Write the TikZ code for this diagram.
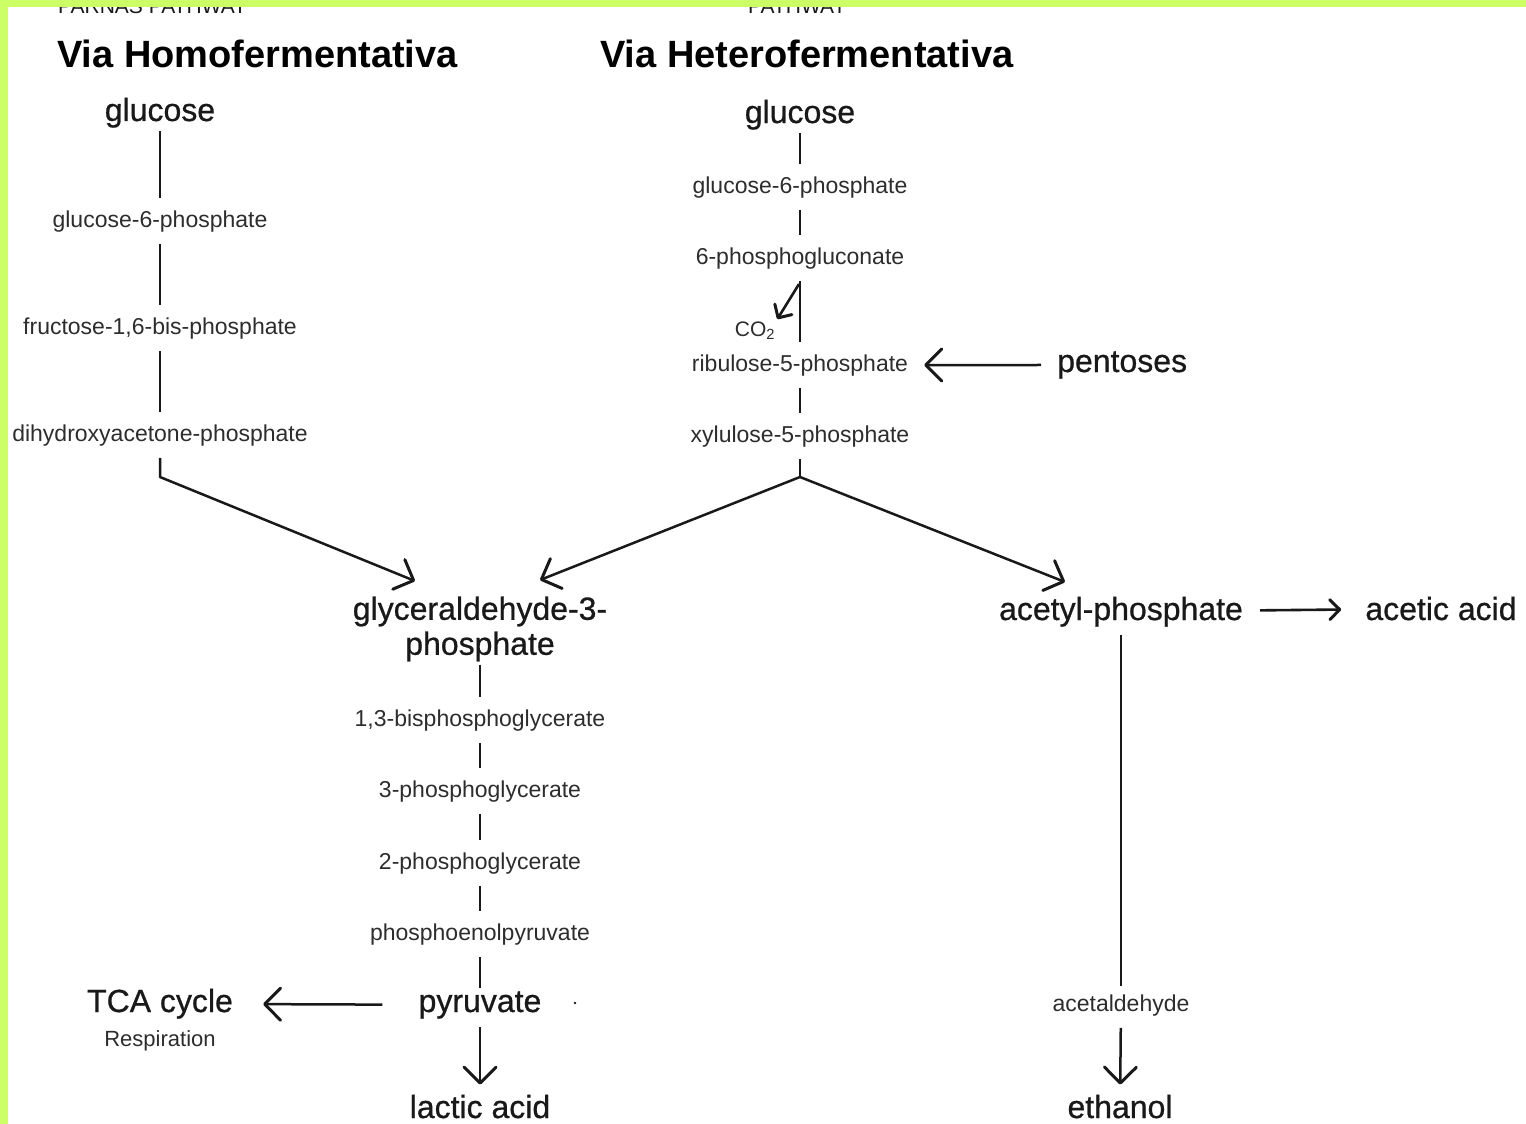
\documentclass[tikz,border=0pt]{standalone}
\usepackage{fontspec}
\setmainfont{Liberation Sans}
\newfontfamily\heavyfont{Liberation Sans}[FakeBold=0.7]
\usetikzlibrary{arrows.meta,calc}
\definecolor{lime}{RGB}{204,255,102}
\definecolor{ink}{RGB}{25,25,25}
\definecolor{inksoft}{RGB}{45,45,45}
\begin{document}
\begin{tikzpicture}[x=1pt,y=-1pt,
  big/.style={font=\heavyfont\fontsize{32}{35}\selectfont, text=ink, inner xsep=4pt, inner ysep=3pt, anchor=base},
  small/.style={font=\fontsize{23}{26}\selectfont, text=inksoft, inner xsep=4pt, inner ysep=12pt, anchor=base},
  titletext/.style={font=\fontsize{38}{42}\selectfont\bfseries, text=black, inner sep=0pt, anchor=base west},
  cuttext/.style={font=\fontsize{21}{24}\selectfont, text=ink, inner sep=0pt, anchor=base west},
  link/.style={line width=2pt, draw=ink},
  arr/.style={line width=2.5pt, draw=ink, -{Straight Barb[length=16pt,width=32pt,line width=3pt,round]}},
  arrsmall/.style={line width=2.6pt, draw=ink, -{Straight Barb[length=10pt,width=20pt,line width=3pt,round]}},
]
\useasboundingbox (0,0) rectangle (1526,1124);
\fill[white] (0,0) rectangle (1526,1124);

% cut-off headings
\node[cuttext] (cutL) at (58,14) {PARNAS PATHWAY};
\node[cuttext] (cutR) at (748,14) {PATHWAY};

% titles
\node[titletext] (t1) at (57,68) {Via Homofermentativa};
\node[titletext] (t2) at (600,68) {Via Heterofermentativa};

% homofermentative column
\node[big]   (glcL) at (160,121) {glucose};
\node[small] (g6pL) at (160,227) {glucose-6-phosphate};
\node[small] (fbp)  at (160,334) {fructose-1,6-bis-phosphate};
\node[small] (dhap) at (160,441) {dihydroxyacetone-phosphate};
\coordinate (bendL) at (160,477);
\coordinate (g3pinL) at (415,581);

% heterofermentative column
\node[big]   (glcR) at (800,123) {glucose};
\node[small] (g6pR) at (800,193) {glucose-6-phosphate};
\node[small] (pgl)  at (800,264) {6-phosphogluconate};
\node[small] (ru5p) at (800,371) {ribulose-5-phosphate};
\node[small] (xu5p) at (800,442) {xylulose-5-phosphate};
\node[font=\fontsize{21}{24}\selectfont, text=inksoft, inner sep=2pt, anchor=base] (co2) at (755,336) {CO\textsubscript{2}};
\coordinate (co2src) at (799,284);
\node[big, anchor=base west, inner xsep=0pt] (pent) at (1057,372) {pentoses};
\coordinate (bendR) at (800,477);
\coordinate (g3pinR) at (540,580);
\coordinate (acpin) at (1065,582);

% lower left
\node[big, align=center, anchor=center] (g3p) at (480,629) {glyceraldehyde-3-\\phosphate};
\node[small] (bpg)  at (480,726) {1,3-bisphosphoglycerate};
\node[small] (pg3)  at (480,797) {3-phosphoglycerate};
\node[small] (pg2)  at (480,869) {2-phosphoglycerate};
\node[small] (pep)  at (480,940) {phosphoenolpyruvate};
\node[big]   (pyr)  at (480,1012) {pyruvate};
\node[big]   (tca)  at (160,1012) {TCA cycle};
\node[font=\fontsize{22}{24}\selectfont, text=inksoft, inner sep=2pt, anchor=base] (resp) at (160,1046) {Respiration};
\node[big]   (lac)  at (480,1118) {lactic acid};

% lower right
\node[big]   (acp)  at (1121,620) {acetyl-phosphate};
\node[big]   (aca)  at (1441,620) {acetic acid};
\node[small] (ald)  at (1121,1011) {acetaldehyde};
\node[big]   (eth)  at (1120,1118) {ethanol};

% connectors, homofermentative
\draw[link] (glcL) -- (g6pL);
\draw[link] (g6pL) -- (fbp);
\draw[link] (fbp) -- (dhap);
\draw[arr, line join=round] (dhap) -- (bendL) -- (g3pinL);

% connectors, heterofermentative
\draw[link] (glcR) -- (g6pR);
\draw[link] (g6pR) -- (pgl);
\draw[link] (pgl) -- (ru5p);
\draw[arrsmall] (co2src) .. controls (791,297) .. (co2.north east);
\draw[arr, shorten <=16pt, shorten >=12pt] (pent) -- (ru5p);
\draw[link] (ru5p) -- (xu5p);
\draw[link, line join=round] (xu5p) -- (bendR);
\draw[arr, line join=round] (bendR) -- (g3pinR);
\draw[arr, line join=round] (bendR) -- (acpin);

% lower left connectors
\draw[link] (g3p) -- (bpg);
\draw[link] (bpg) -- (pg3);
\draw[link] (pg3) -- (pg2);
\draw[link] (pg2) -- (pep);
\draw[link] (pep) -- (pyr);
\draw[arr, shorten <=32pt, shorten >=26pt] (pyr) -- (tca);
\draw[arr, shorten <=5pt, shorten >=7pt] (pyr) -- (lac);
\fill[ink] (575,1003) circle (1.3);

% lower right connectors
\draw[arrsmall, shorten <=13pt, shorten >=20pt] (acp) -- (aca);
\draw[link, shorten <=5pt, shorten >=-4pt] (acp) -- (ald);
\draw[arr, shorten >=7pt] (ald) -- (eth);

% green frame
\fill[lime] (0,0) rectangle (1526,7);
\fill[lime] (0,0) rectangle (8,1124);
\end{tikzpicture}
\end{document}
